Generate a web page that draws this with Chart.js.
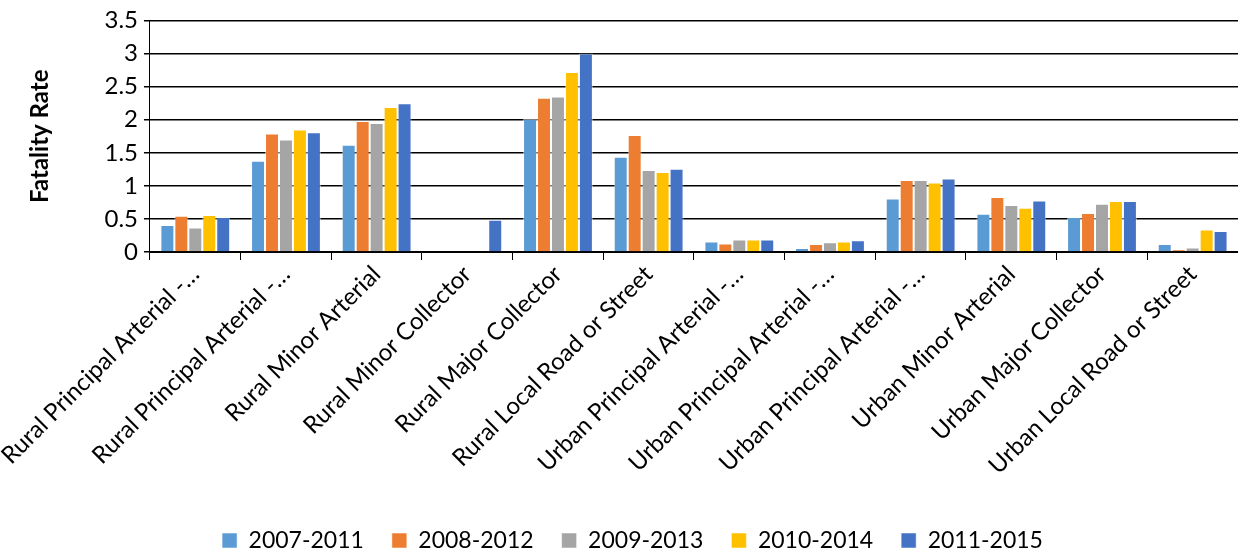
<!DOCTYPE html>
<html lang="en">
<head>
    <meta charset="UTF-8">
    <title>Fatality Rate by Functional Class</title>
    <script src="https://cdn.jsdelivr.net/npm/chart.js"></script>
    <style>
        body {
            margin: 0;
            background-color: white;
        }
        #chartContainer {
            width: 1238px;
            height: 557px;
        }
    </style>
</head>
<body>
    <div id="chartContainer">
        <canvas id="rateChart"></canvas>
    </div>
    <script>
        // categories (truncated the way they appear on the axis)
        const categories = [
            'Rural Principal Arterial -\u2026',
            'Rural Principal Arterial -\u2026',
            'Rural Minor Arterial',
            'Rural Minor Collector',
            'Rural Major Collector',
            'Rural Local Road or Street',
            'Urban Principal Arterial -\u2026',
            'Urban Principal Arterial -\u2026',
            'Urban Principal Arterial -\u2026',
            'Urban Minor Arterial',
            'Urban Major Collector',
            'Urban Local Road or Street'
        ];

        const seriesNames = ['2007-2011', '2008-2012', '2009-2013', '2010-2014', '2011-2015'];
        const seriesColors = ['#5B9BD5', '#ED7D31', '#A5A5A5', '#FFC000', '#4472C4'];

        const rates2007_2011 = [0.41, 1.38, 1.62, 0, 2.01, 1.44, 0.16, 0.06, 0.81, 0.58, 0.53, 0.12];
        const rates2008_2012 = [0.55, 1.79, 1.98, 0, 2.33, 1.77, 0.13, 0.12, 1.09, 0.83, 0.59, 0.04];
        const rates2009_2013 = [0.37, 1.70, 1.95, 0, 2.35, 1.24, 0.19, 0.15, 1.09, 0.71, 0.73, 0.07];
        const rates2010_2014 = [0.56, 1.85, 2.19, 0, 2.72, 1.21, 0.19, 0.16, 1.05, 0.67, 0.77, 0.34];
        const rates2011_2015 = [0.53, 1.81, 2.25, 0.49, 3.00, 1.26, 0.19, 0.18, 1.11, 0.78, 0.77, 0.32];

        const allRates = [rates2007_2011, rates2008_2012, rates2009_2013, rates2010_2014, rates2011_2015];

        const yTicks = [0, 0.5, 1, 1.5, 2, 2.5, 3, 3.5];

        const fontFamily = "Lato, 'Liberation Sans', sans-serif";

        const ctx = document.getElementById('rateChart').getContext('2d');

        new Chart(ctx, {
            type: 'bar',
            data: {
                labels: categories,
                datasets: seriesNames.map((name, i) => ({
                    label: name,
                    data: allRates[i],
                    backgroundColor: seriesColors[i],
                    borderColor: 'rgba(255,255,255,0.5)',
                    borderWidth: 1,
                    categoryPercentage: 0.77,
                    barPercentage: 1.0
                }))
            },
            options: {
                responsive: true,
                maintainAspectRatio: false,
                animation: false,
                layout: {
                    padding: { left: 15, right: -12, top: 2, bottom: -5 }
                },
                scales: {
                    x: {
                        grid: {
                            display: true,
                            drawOnChartArea: false,
                            color: '#000',
                            tickLength: 8,
                            offset: true
                        },
                        border: { color: '#000', width: 1 },
                        ticks: {
                            color: '#000',
                            font: { family: fontFamily, size: 24 },
                            minRotation: 45,
                            maxRotation: 45,
                            autoSkip: false,
                            padding: 0
                        },
                        // leave some room between the labels and the legend
                        afterFit: scale => { scale.height += 21; }
                    },
                    y: {
                        min: 0,
                        max: 3.5,
                        afterBuildTicks: axis => {
                            axis.ticks = yTicks.map(v => ({ value: v }));
                        },
                        grid: {
                            color: '#000',
                            lineWidth: 1.5,
                            drawTicks: true,
                            tickLength: 6
                        },
                        border: { color: '#000', width: 1 },
                        ticks: {
                            color: '#000',
                            font: { family: fontFamily, size: 24 },
                            padding: 6,
                            callback: v => String(v)
                        },
                        title: {
                            display: true,
                            text: 'Fatality Rate',
                            color: '#000',
                            font: { family: fontFamily, size: 24, weight: 'bold' },
                            padding: { top: 0, bottom: 44 }
                        }
                    }
                },
                plugins: {
                    legend: {
                        position: 'bottom',
                        labels: {
                            color: '#000',
                            font: { family: fontFamily, size: 23 },
                            boxWidth: 15,
                            boxHeight: 15,
                            padding: 28
                        }
                    },
                    tooltip: { enabled: false }
                }
            }
        });
    </script>
</body>
</html>
